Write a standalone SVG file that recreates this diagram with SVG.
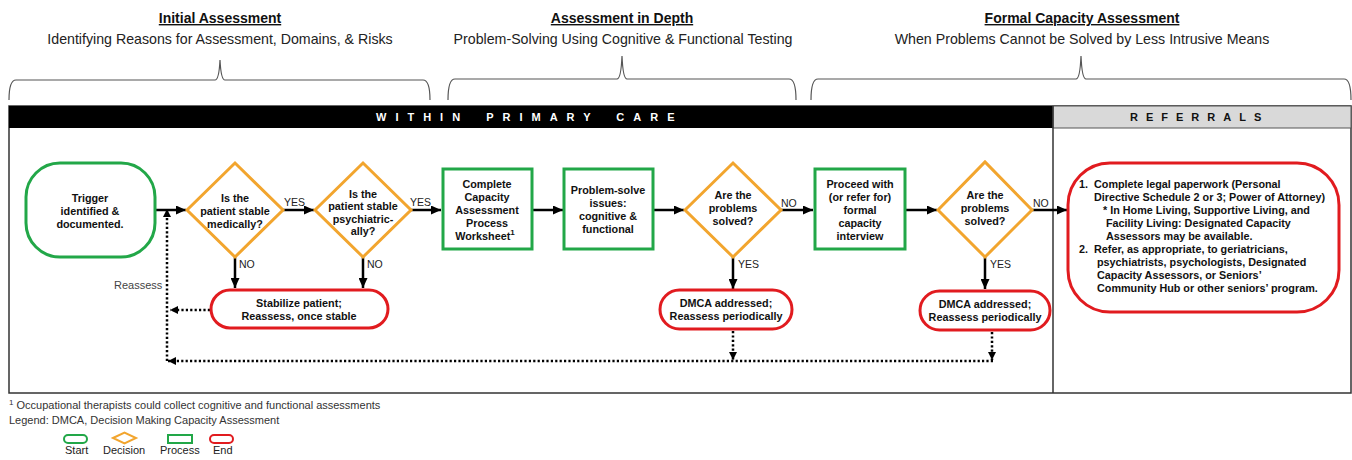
<svg xmlns="http://www.w3.org/2000/svg" width="1352" height="460" viewBox="0 0 1352 460">
<style>
text{font-family:"Liberation Sans",Arial,sans-serif;}
.title{font-size:14px;font-weight:bold;fill:#111;text-decoration:underline;text-anchor:middle;}
.sub{font-size:14.2px;fill:#222;text-anchor:middle;}
.brace{fill:none;stroke:#555;stroke-width:1.2;}
.nt{font-size:10.8px;font-weight:bold;fill:#111;text-anchor:middle;}
.rt{font-size:10.8px;font-weight:bold;fill:#111;}
.lbl{font-size:10.5px;fill:#222;}
.start{fill:#fff;stroke:#22a748;stroke-width:3;}
.dec{fill:#fff;stroke:#f2a52e;stroke-width:3;}
.proc{fill:#fff;stroke:#22a748;stroke-width:3;}
.end{fill:#fff;stroke:#e11b1f;stroke-width:3;}
.c{fill:none;stroke:#000;stroke-width:2.5;}
.d{fill:none;stroke:#000;stroke-width:2.5;stroke-dasharray:2.2 2.2;}
.foot{font-size:11px;fill:#333;}
.leg{font-size:11px;fill:#222;}
.lgs{fill:#fff;stroke-width:2;}
</style>
<defs>
<marker id="ah" markerUnits="userSpaceOnUse" markerWidth="10" markerHeight="9" refX="10" refY="4.5" orient="auto">
<path d="M0,0 L10,4.5 L0,9 z" fill="#000"/>
</marker>
<marker id="ahs" markerUnits="userSpaceOnUse" markerWidth="8" markerHeight="8" refX="8" refY="4" orient="auto">
<path d="M0,0 L8,4 L0,8 z" fill="#000"/>
</marker>
</defs>

<!-- Phase headers -->
<g id="phase-initial">
<text class="title" x="220" y="23">Initial Assessment</text>
<text class="sub" x="220" y="44">Identifying Reasons for Assessment, Domains, &amp; Risks</text>
<path class="brace" d="M9,100 Q9,80 16,80 L215,80 Q219,80 220,60 Q221,80 225,80 L423,80 Q430,80 430,100"/>
</g>
<g id="phase-depth">
<text class="title" x="622" y="23">Assessment in Depth</text>
<text class="sub" x="623" y="44">Problem-Solving Using Cognitive &amp; Functional Testing</text>
<path class="brace" d="M448,100 Q448,79 455,79 L617,79 Q621,79 622,56 Q623,79 627,79 L789,79 Q796,79 796,100"/>
</g>
<g id="phase-formal">
<text class="title" x="1082" y="23">Formal Capacity Assessment</text>
<text class="sub" x="1082" y="44">When Problems Cannot be Solved by Less Intrusive Means</text>
<path class="brace" d="M811,100 Q811,79 818,79 L1076,79 Q1080,79 1081,56 Q1082,79 1086,79 L1344,79 Q1351,79 1351,100"/>
</g>

<!-- Frame -->
<g id="frame">
<rect x="9" y="106" width="1342" height="287" fill="none" stroke="#333" stroke-width="1.5"/>
<rect x="9" y="106" width="1044" height="22" fill="#000"/>
<rect x="1053" y="106" width="298" height="22" fill="#d9d9d9" stroke="#555" stroke-width="1"/>
<line x1="1053" y1="106" x2="1053" y2="393" stroke="#333" stroke-width="1.5"/>
<text x="376" y="121" font-size="11" font-weight="bold" fill="#fff" letter-spacing="9" word-spacing="5">WITHIN PRIMARY CARE</text>
<text x="1130" y="121" font-size="11" font-weight="bold" fill="#111" letter-spacing="8">REFERRALS</text>
</g>

<!-- Connectors -->
<g id="connectors">
<line class="c" x1="155" y1="210" x2="186" y2="210" marker-end="url(#ah)"/>
<line class="c" x1="283" y1="210" x2="314" y2="210" marker-end="url(#ah)"/>
<line class="c" x1="411" y1="210" x2="441" y2="210" marker-end="url(#ah)"/>
<line class="c" x1="532" y1="210" x2="563" y2="210" marker-end="url(#ah)"/>
<line class="c" x1="653" y1="210" x2="684" y2="210" marker-end="url(#ah)"/>
<line class="c" x1="781" y1="210" x2="813" y2="210" marker-end="url(#ah)"/>
<line class="c" x1="905" y1="210" x2="937" y2="210" marker-end="url(#ah)"/>
<line class="c" x1="1032" y1="210" x2="1067" y2="210" marker-end="url(#ah)"/>
<line class="c" x1="235" y1="257" x2="235" y2="288" marker-end="url(#ah)"/>
<line class="c" x1="363" y1="257" x2="363" y2="288" marker-end="url(#ah)"/>
<line class="c" x1="733" y1="257" x2="733" y2="289" marker-end="url(#ah)"/>
<line class="c" x1="985" y1="257" x2="985" y2="289" marker-end="url(#ah)"/>
<line class="d" x1="210" y1="310" x2="170" y2="310" marker-end="url(#ahs)"/>
<line class="d" x1="167" y1="361" x2="167" y2="209" marker-end="url(#ahs)"/>
<line class="d" x1="993" y1="361" x2="168" y2="361" marker-end="url(#ahs)"/>
<line class="d" x1="733" y1="331" x2="733" y2="360" marker-end="url(#ahs)"/>
<line class="d" x1="992" y1="332" x2="992" y2="360" marker-end="url(#ahs)"/>
<text class="lbl" x="284" y="206">YES</text>
<text class="lbl" x="410" y="206">YES</text>
<text class="lbl" x="781" y="207">NO</text>
<text class="lbl" x="1033" y="207">NO</text>
<text class="lbl" x="239" y="268">NO</text>
<text class="lbl" x="367" y="268">NO</text>
<text class="lbl" x="738" y="268">YES</text>
<text class="lbl" x="990" y="268">YES</text>
<text x="114" y="289" font-size="11" fill="#444">Reassess</text>
</g>

<!-- Nodes -->
<g id="trigger">
<rect class="start" x="26" y="163" width="129" height="94" rx="34"/>
<text class="nt" x="90" y="202">Trigger</text>
<text class="nt" x="90" y="215">identified &amp;</text>
<text class="nt" x="90" y="228">documented.</text>
</g>
<g id="stable-medically">
<polygon class="dec" points="187,210 235,163 283,210 235,257"/>
<text class="nt" x="235" y="202">Is the</text>
<text class="nt" x="235" y="215">patient stable</text>
<text class="nt" x="235" y="228">medically?</text>
</g>
<g id="stable-psych">
<polygon class="dec" points="315,210 363,163 411,210 363,257"/>
<text class="nt" x="363" y="198">Is the</text>
<text class="nt" x="363" y="210">patient stable</text>
<text class="nt" x="363" y="223">psychiatric-</text>
<text class="nt" x="363" y="235">ally?</text>
</g>
<g id="stabilize">
<rect class="end" x="211" y="290" width="177" height="38" rx="19"/>
<text class="nt" x="299" y="307">Stabilize patient;</text>
<text class="nt" x="299" y="320">Reassess, once stable</text>
</g>
<g id="worksheet">
<rect class="proc" x="443" y="169" width="89" height="80"/>
<text class="nt" x="487" y="188">Complete</text>
<text class="nt" x="487" y="201">Capacity</text>
<text class="nt" x="487" y="214">Assessment</text>
<text class="nt" x="487" y="227">Process</text>
<text class="nt" x="485" y="240">Worksheet<tspan font-size="8" dy="-5">1</tspan></text>
</g>
<g id="problem-solve">
<rect class="proc" x="564" y="169" width="89" height="80"/>
<text class="nt" x="608" y="194">Problem-solve</text>
<text class="nt" x="608" y="207">issues:</text>
<text class="nt" x="608" y="220">cognitive &amp;</text>
<text class="nt" x="608" y="233">functional</text>
</g>
<g id="solved-1">
<polygon class="dec" points="685,210 733,163 781,210 733,257"/>
<text class="nt" x="733" y="199">Are the</text>
<text class="nt" x="733" y="212">problems</text>
<text class="nt" x="733" y="225">solved?</text>
</g>
<g id="dmca-1">
<rect class="end" x="660" y="290" width="132" height="39" rx="19.5"/>
<text class="nt" x="726" y="307">DMCA addressed;</text>
<text class="nt" x="726" y="320">Reassess periodically</text>
</g>
<g id="formal-interview">
<rect class="proc" x="815" y="169" width="90" height="80"/>
<text class="nt" x="860" y="188">Proceed with</text>
<text class="nt" x="860" y="201">(or refer for)</text>
<text class="nt" x="860" y="214">formal</text>
<text class="nt" x="860" y="227">capacity</text>
<text class="nt" x="860" y="240">interview</text>
</g>
<g id="solved-2">
<polygon class="dec" points="938,210 985,162 1032,210 985,257"/>
<text class="nt" x="985" y="199">Are the</text>
<text class="nt" x="985" y="212">problems</text>
<text class="nt" x="985" y="225">solved?</text>
</g>
<g id="dmca-2">
<rect class="end" x="920" y="291" width="130" height="39" rx="19.5"/>
<text class="nt" x="985" y="308">DMCA addressed;</text>
<text class="nt" x="985" y="321">Reassess periodically</text>
</g>
<g id="referrals">
<rect class="end" x="1068" y="163" width="271" height="149" rx="42"/>
<text class="rt" x="1079" y="188">1.</text>
<text class="rt" x="1094" y="188">Complete legal paperwork (Personal</text>
<text class="rt" x="1094" y="201">Directive Schedule 2 or 3; Power of Attorney)</text>
<text class="rt" x="1103" y="214">* In Home Living, Supportive Living, and</text>
<text class="rt" x="1106" y="227">Facility Living: Designated Capacity</text>
<text class="rt" x="1106" y="240">Assessors may be  available.</text>
<text class="rt" x="1079" y="253">2.</text>
<text class="rt" x="1094" y="253">Refer, as appropriate, to geriatricians,</text>
<text class="rt" x="1097" y="266">psychiatrists, psychologists, Designated</text>
<text class="rt" x="1097" y="279">Capacity Assessors, or Seniors’</text>
<text class="rt" x="1097" y="292">Community Hub or other seniors’ program.</text>
</g>

<!-- Footnotes and legend -->
<g id="footnotes">
<text class="foot" x="9" y="409"><tspan font-size="8" dy="-4">1</tspan><tspan dy="4"> Occupational therapists could collect cognitive and functional assessments</tspan></text>
<text class="foot" x="9" y="424">Legend: DMCA, Decision Making Capacity Assessment</text>
</g>
<g id="legend">
<rect class="lgs" x="64" y="435" width="23" height="8" rx="4" stroke="#22a748"/>
<polygon class="lgs" points="113,438 124.5,432.5 136,438 124.5,443.5" stroke="#f2a52e"/>
<rect class="lgs" x="168" y="435" width="24" height="8" stroke="#22a748"/>
<rect class="lgs" x="210" y="435" width="23" height="8" rx="4" stroke="#e11b1f"/>
<text class="leg" x="65" y="454">Start</text>
<text class="leg" x="103" y="454">Decision</text>
<text class="leg" x="160" y="454">Process</text>
<text class="leg" x="213" y="454">End</text>
</g>
</svg>
